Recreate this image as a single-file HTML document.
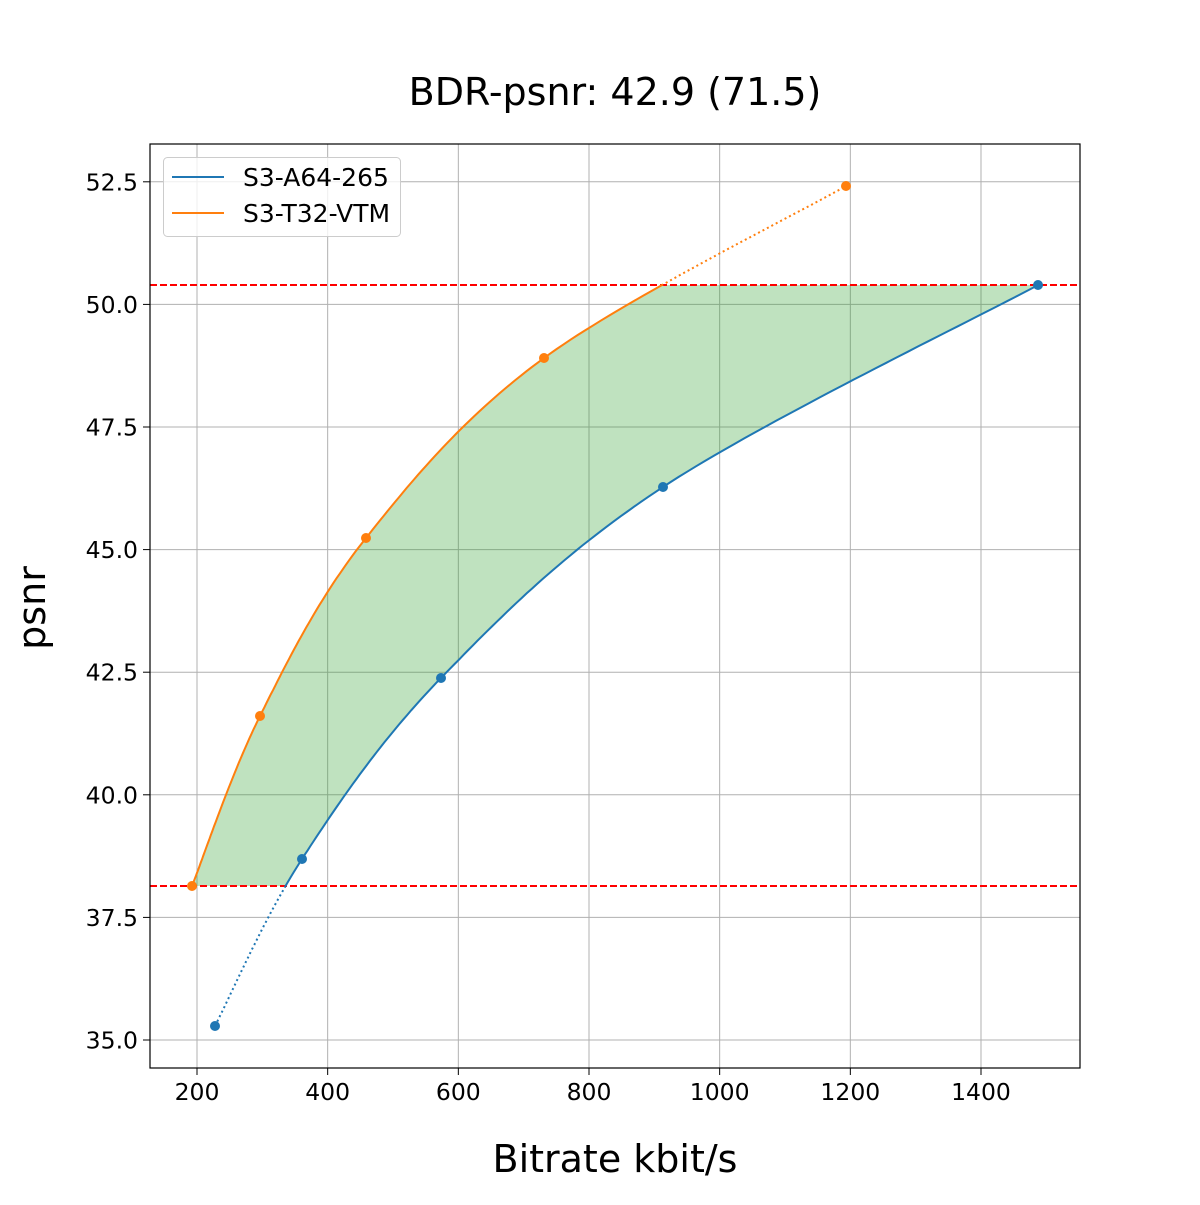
<!DOCTYPE html>
<html><head><style>
body{margin:0;background:#fff;}
svg text{font-family:"DejaVu Sans","Liberation Sans",sans-serif;fill:#000;}
</style></head><body>
<svg id="s" width="1200" height="1200" xmlns="http://www.w3.org/2000/svg">
<rect width="1200" height="1200" fill="#fff"/>
<g id="grid" stroke="#b0b0b0" stroke-width="1"></g>
<g id="plot"></g>
<rect x="150" y="144" width="930" height="924" fill="none" stroke="#000" stroke-width="1.2"/>
<g id="ticks" font-size="23.5"></g>
<text x="615" y="105" font-size="38" text-anchor="middle">BDR-psnr: 42.9 (71.5)</text>
<text x="615" y="1172" font-size="38" text-anchor="middle">Bitrate kbit/s</text>
<text transform="translate(45,608) rotate(-90)" font-size="38" text-anchor="middle">psnr</text>
<rect x="163.5" y="157.5" width="237" height="79" rx="4" fill="#fff" fill-opacity="0.8" stroke="#ccc"/>
<line x1="172" y1="177" x2="224" y2="177" stroke="#1f77b4" stroke-width="2"/>
<line x1="172" y1="213" x2="224" y2="213" stroke="#ff7f0e" stroke-width="2"/>
<text x="243" y="186" font-size="25">S3-A64-265</text>
<text x="243" y="222" font-size="25">S3-T32-VTM</text>
</svg>
<script>
var NS="http://www.w3.org/2000/svg";
function el(p,t,a){var e=document.createElementNS(NS,t);for(var k in a)e.setAttribute(k,a[k]);p.appendChild(e);return e;}
var grid=document.getElementById('grid'),ticks=document.getElementById('ticks'),plot=document.getElementById('plot');
function X(v){return 197+(v-200)*0.65333;}
function Y(v){return 1040-(v-35)*49.04;}
for(var v=200;v<=1400;v+=200){var x=X(v);el(grid,'line',{x1:x,y1:144,x2:x,y2:1068});el(ticks,'line',{x1:x,y1:1068,x2:x,y2:1075,stroke:'#000'});var t=el(ticks,'text',{x:x,y:1100,'text-anchor':'middle'});t.textContent=v;}
for(var v=35;v<=52.5;v+=2.5){var y=Y(v);el(grid,'line',{x1:150,y1:y,x2:1080,y2:y});el(ticks,'line',{x1:143,y1:y,x2:150,y2:y,stroke:'#000'});var t=el(ticks,'text',{x:138,y:y+8.5,'text-anchor':'end'});t.textContent=v.toFixed(1);}
function cr(P){var out=[];for(var i=0;i<P.length-1;i++){var p0=P[Math.max(i-1,0)],p1=P[i],p2=P[i+1],p3=P[Math.min(i+2,P.length-1)];for(var k=0;k<40;k++){var t=k/40,t2=t*t,t3=t2*t;var f=function(a,b,c,d){return 0.5*(2*b+(-a+c)*t+(2*a-5*b+4*c-d)*t2+(-a+3*b-3*c+d)*t3)};out.push([f(p0[0],p1[0],p2[0],p3[0]),f(p0[1],p1[1],p2[1],p3[1])]);}}out.push(P[P.length-1]);return out;}
var B=cr([[215,1026],[302,859],[441,678],[663,487],[1038,285]]);
var O=cr([[192,886],[260,716],[366,538],[544,358],[846,186]]);
var lo=886,hi=285;
function pts(a){return a.map(function(p){return p[0].toFixed(1)+','+p[1].toFixed(1)}).join(' ');}
var bIn=B.filter(function(p){return p[1]<=lo+0.5;}),bOut=B.filter(function(p){return p[1]>=lo-3;});
var oIn=O.filter(function(p){return p[1]>=hi-0.5;}),oOut=O.filter(function(p){return p[1]<=hi+3;});
var poly=[[oIn[0][0],lo]].concat(oIn).concat([[oIn[oIn.length-1][0],hi]]).concat(bIn.slice().reverse()).concat([[bIn[0][0],lo]]);
el(plot,'polygon',{points:pts(poly),fill:'#2ca02c','fill-opacity':0.3,stroke:'none'});
el(plot,'line',{x1:150,y1:285,x2:1080,y2:285,stroke:'#ff0000','stroke-width':2,'stroke-dasharray':'7,3'});
el(plot,'line',{x1:150,y1:886,x2:1080,y2:886,stroke:'#ff0000','stroke-width':2,'stroke-dasharray':'7,3'});
el(plot,'polyline',{points:pts(bOut),fill:'none',stroke:'#1f77b4','stroke-width':2,'stroke-dasharray':'2,3'});
el(plot,'polyline',{points:pts(oOut),fill:'none',stroke:'#ff7f0e','stroke-width':2,'stroke-dasharray':'2,3'});
el(plot,'polyline',{points:pts(bIn),fill:'none',stroke:'#1f77b4','stroke-width':2});
el(plot,'polyline',{points:pts(oIn),fill:'none',stroke:'#ff7f0e','stroke-width':2});
[[215,1026],[302,859],[441,678],[663,487],[1038,285]].forEach(function(p){el(plot,'circle',{cx:p[0],cy:p[1],r:5,fill:'#1f77b4'});});
[[192,886],[260,716],[366,538],[544,358],[846,186]].forEach(function(p){el(plot,'circle',{cx:p[0],cy:p[1],r:5,fill:'#ff7f0e'});});
</script>
</body></html>
